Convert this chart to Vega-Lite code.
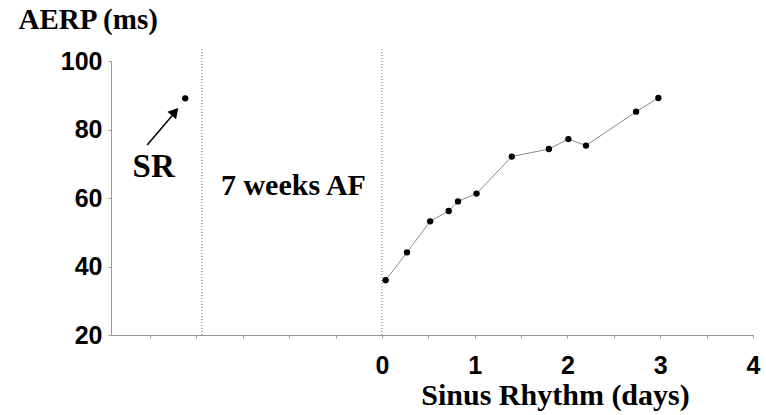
{
  "$schema": "https://vega.github.io/schema/vega-lite/v6.json",
  "width": 642,
  "height": 274,
  "autosize": "none",
  "padding": {"left": 111, "top": 61, "right": 13, "bottom": 80},
  "background": "white",
  "config": {"view": {"stroke": null}},
  "datasets": {
    "series": [
      {"day": 0.04, "aerp": 36},
      {"day": 0.27, "aerp": 44.1},
      {"day": 0.52, "aerp": 53.2},
      {"day": 0.72, "aerp": 56.2},
      {"day": 0.82, "aerp": 59},
      {"day": 1.02, "aerp": 61.3},
      {"day": 1.4, "aerp": 72.1},
      {"day": 1.8, "aerp": 74.3},
      {"day": 2.01, "aerp": 77.2},
      {"day": 2.2, "aerp": 75.3},
      {"day": 2.74, "aerp": 85.2},
      {"day": 2.98, "aerp": 89.2}
    ],
    "sr": [{"day": -2.12, "aerp": 89.1}],
    "dividers": [{"day": -1.94}, {"day": 0}],
    "arrow": [{"day": -2.53, "aerp": 75.5, "day2": -2.25, "aerp2": 84.4}],
    "head": [{"day": -2.23, "aerp": 85.2}],
    "srlabel": [{"day": -2.46, "aerp": 66.1, "note": "SR"}],
    "aflabel": [{"day": -0.954, "aerp": 60.9, "note": "7 weeks AF"}]
  },
  "layer": [
    {
      "data": {"name": "series"},
      "mark": {"type": "line", "color": "#8a8a8a", "strokeWidth": 1},
      "encoding": {
        "x": {
          "field": "day",
          "type": "quantitative",
          "scale": {"domain": [-2.92, 4], "nice": false, "zero": false},
          "axis": {
            "values": [-2.5, -2, -1.5, -1, -0.5, 0, 0.5, 1, 1.5, 2, 2.5, 3, 3.5, 4],
            "labelExpr": "datum.value >= 0 && datum.value % 1 == 0 ? format(datum.value, 'd') : ''",
            "grid": false,
            "domainColor": "#999999",
            "tickColor": "#999999",
            "tickSize": 3,
            "labelFont": "Liberation Sans",
            "labelFontWeight": "bold",
            "labelFontSize": 25,
            "labelColor": "black",
            "labelPadding": 15,
            "labelFlush": false,
            "labelOverlap": false,
            "title": "Sinus Rhythm (days)",
            "titleFont": "Liberation Serif",
            "titleFontWeight": "bold",
            "titleFontSize": 30,
            "titleColor": "black",
            "titleX": 444,
            "titleY": 69,
            "titleBaseline": "alphabetic"
          }
        },
        "y": {
          "field": "aerp",
          "type": "quantitative",
          "scale": {"domain": [20, 100], "nice": false, "zero": false},
          "axis": {
            "values": [20, 30, 40, 50, 60, 70, 80, 90, 100],
            "labelExpr": "datum.value % 20 == 0 ? datum.label : ''",
            "grid": false,
            "domainColor": "#999999",
            "tickColor": "#999999",
            "tickSize": 3,
            "labelFont": "Liberation Sans",
            "labelFontWeight": "bold",
            "labelFontSize": 25,
            "labelColor": "black",
            "labelPadding": 6,
            "labelOverlap": false,
            "title": "AERP (ms)",
            "titleFont": "Liberation Serif",
            "titleFontWeight": "bold",
            "titleFontSize": 29,
            "titleColor": "black",
            "titleAngle": 0,
            "titleAlign": "left",
            "titleBaseline": "alphabetic",
            "titleX": -93,
            "titleY": -33
          }
        }
      }
    },
    {
      "data": {"name": "dividers"},
      "mark": {"type": "rule", "color": "#777777", "strokeWidth": 1, "strokeDash": [1, 2]},
      "encoding": {
        "x": {"field": "day", "type": "quantitative"},
        "y": {"datum": 20, "type": "quantitative"},
        "y2": {"datum": 103.8}
      }
    },
    {
      "data": {"name": "series"},
      "mark": {"type": "point", "filled": true, "color": "black", "opacity": 1, "size": 40},
      "encoding": {
        "x": {"field": "day", "type": "quantitative"},
        "y": {"field": "aerp", "type": "quantitative"}
      }
    },
    {
      "data": {"name": "sr"},
      "mark": {"type": "point", "filled": true, "color": "black", "opacity": 1, "size": 40},
      "encoding": {
        "x": {"field": "day", "type": "quantitative"},
        "y": {"field": "aerp", "type": "quantitative"}
      }
    },
    {
      "data": {"name": "arrow"},
      "mark": {"type": "rule", "color": "black", "strokeWidth": 1.5},
      "encoding": {
        "x": {"field": "day", "type": "quantitative"},
        "y": {"field": "aerp", "type": "quantitative"},
        "x2": {"field": "day2"},
        "y2": {"field": "aerp2"}
      }
    },
    {
      "data": {"name": "head"},
      "mark": {"type": "point", "shape": "triangle-up", "filled": true, "color": "black", "opacity": 1, "size": 130, "angle": 41},
      "encoding": {
        "x": {"field": "day", "type": "quantitative"},
        "y": {"field": "aerp", "type": "quantitative"}
      }
    },
    {
      "data": {"name": "srlabel"},
      "mark": {"type": "text", "font": "Liberation Serif", "fontWeight": "bold", "fontSize": 33, "color": "black", "align": "center", "baseline": "alphabetic"},
      "encoding": {
        "x": {"field": "day", "type": "quantitative"},
        "y": {"field": "aerp", "type": "quantitative"},
        "text": {"field": "note"}
      }
    },
    {
      "data": {"name": "aflabel"},
      "mark": {"type": "text", "font": "Liberation Serif", "fontWeight": "bold", "fontSize": 30, "color": "black", "align": "center", "baseline": "alphabetic"},
      "encoding": {
        "x": {"field": "day", "type": "quantitative"},
        "y": {"field": "aerp", "type": "quantitative"},
        "text": {"field": "note"}
      }
    }
  ]
}
